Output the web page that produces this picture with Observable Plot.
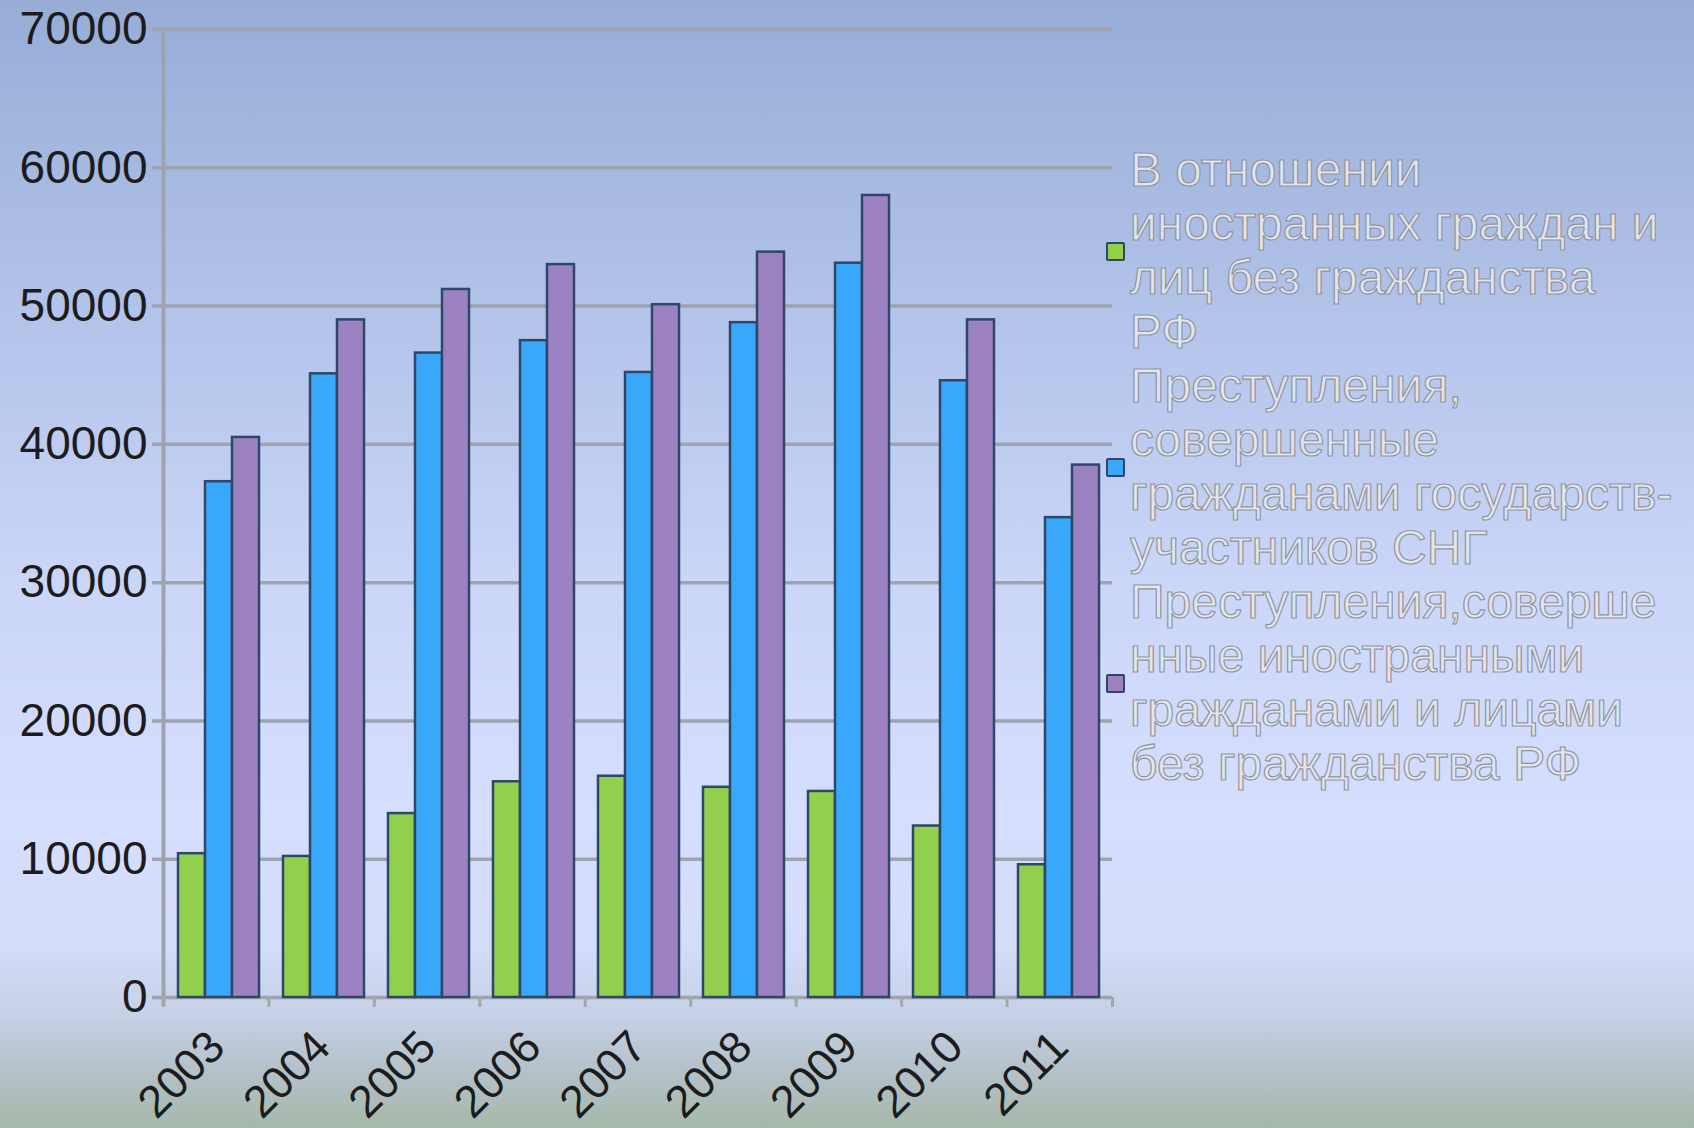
<!DOCTYPE html>
<html>
<head>
<meta charset="utf-8">
<script src="https://cdn.jsdelivr.net/npm/d3@7"></script>
<script src="https://cdn.jsdelivr.net/npm/@observablehq/plot@0.6"></script>
<style>
  html, body { margin: 0; padding: 0; }
  body {
    width: 1694px; height: 1128px; overflow: hidden; position: relative;
    background: linear-gradient(to bottom, #97add6 0%, #b3c3ea 28%, #cbd6f8 52%, #d6defe 72%, #d3dcf8 84%, #c6d0e6 90%, #b4c1c8 95%, #a6b8aa 100%);
    font-family: "Liberation Sans", Arial, sans-serif;
  }
  #wrap { position: absolute; left: 0; top: 0; width: 1694px; height: 1128px; }
  #wrap svg { position: absolute; left: 0; top: 0; }
  #legend {
    position: absolute; left: 1106px; top: 143px;
    font-family: "Liberation Sans", Arial, sans-serif;
    font-size: 48px; line-height: 54px;
  }
  .entry { display: flex; align-items: center; }
  .swatch { width: 15px; height: 15px; border: 2px solid #34465e; border-radius: 2px; flex: none; margin-right: 5px; }
  .label { color: #e2e5ee; -webkit-text-stroke: 1.2px #91969f; white-space: nowrap; }
</style>
</head>
<body>
<div id="wrap"></div>
<div id="legend"></div>
<script>
// ---- data ----
const years = ["2003", "2004", "2005", "2006", "2007", "2008", "2009", "2010", "2011"];
const seriesNames = [
  "В отношении иностранных граждан и лиц без гражданства РФ",
  "Преступления, совершенные гражданами государств-участников СНГ",
  "Преступления,совершенные иностранными гражданами и лицами без гражданства РФ"
];
const legendLines = [
  ["В отношении", "иностранных граждан и", "лиц без гражданства", "РФ"],
  ["Преступления,", "совершенные", "гражданами государств-", "участников СНГ"],
  ["Преступления,соверше", "нные иностранными", "гражданами и лицами", "без гражданства РФ"]
];
const greenValues  = [10400, 10200, 13300, 15600, 16000, 15200, 14900, 12400, 9600];
const blueValues   = [37300, 45100, 46600, 47500, 45200, 48800, 53100, 44600, 34700];
const purpleValues = [40500, 49000, 51200, 53000, 50100, 53900, 58000, 49000, 38500];
const yTicks = [0, 10000, 20000, 30000, 40000, 50000, 60000, 70000];
const colors = ["#90d04c", "#39a8fb", "#9d82c3"];

const seriesValues = [greenValues, blueValues, purpleValues];
const rows = [];
years.forEach((yr, i) => seriesValues.forEach((vals, s) => rows.push({year: yr, series: seriesNames[s], value: vals[i]})));

const W = 1694, H = 1128;
const margins = {marginLeft: 163, marginRight: 582, marginTop: 29, marginBottom: 131};
const font = "'Liberation Sans', Arial, sans-serif";

// ---- axes & grid ----
const axes = Plot.plot({
  width: W, height: H, ...margins,
  style: {background: "transparent", fontFamily: font, overflow: "visible"},
  x: {domain: [0, years.length], axis: null},
  y: {domain: [0, 70000], axis: null},
  marks: [
    Plot.ruleY(yTicks, {y: d => d, stroke: "#9ea3ad", strokeWidth: 3.5, insetLeft: -11}),
    Plot.ruleX([0], {x: d => d, stroke: "#9ea3ad", strokeWidth: 4, insetBottom: -9}),
    Plot.axisX({ticks: d3.range(years.length + 1), tickFormat: () => "", tickSize: 10, stroke: "#a3a7b0", strokeWidth: 3}),
    Plot.text(yTicks, {y: d => d, text: d => String(d), frameAnchor: "left", textAnchor: "end", lineAnchor: "middle", dx: -16, fontSize: 46, fill: "#1c1c1e"}),
    Plot.text(years, {x: (d, i) => i + 0.5, text: d => d, frameAnchor: "bottom", rotate: -45, textAnchor: "end", lineAnchor: "bottom", dx: 11, dy: 52, fontSize: 45, fill: "#1c1c1e"})
  ]
});

// ---- bars ----
const bars = Plot.plot({
  width: W, height: H, ...margins,
  style: {background: "transparent", fontFamily: font, overflow: "visible"},
  fx: {domain: years, paddingInner: 0.22, paddingOuter: 0.11, axis: null, label: null},
  x: {domain: seriesNames, padding: 0, axis: null},
  y: {domain: [0, 70000], axis: null},
  color: {domain: seriesNames, range: colors},
  marks: [
    Plot.barY(rows, {fx: "year", x: "series", y: "value", fill: "series", stroke: "#2e4768", strokeWidth: 2.5})
  ]
});

const wrap = document.getElementById("wrap");
wrap.appendChild(axes);
wrap.appendChild(bars);

// ---- legend ----
const legend = document.getElementById("legend");
legendLines.forEach((lines, s) => {
  const entry = document.createElement("div");
  entry.className = "entry";
  const sw = document.createElement("div");
  sw.className = "swatch";
  sw.style.background = colors[s];
  const lab = document.createElement("div");
  lab.className = "label";
  lab.innerHTML = lines.map(l => l.replace(/&/g, "&amp;").replace(/</g, "&lt;")).join("<br>");
  entry.appendChild(sw);
  entry.appendChild(lab);
  legend.appendChild(entry);
});
</script>
</body>
</html>
